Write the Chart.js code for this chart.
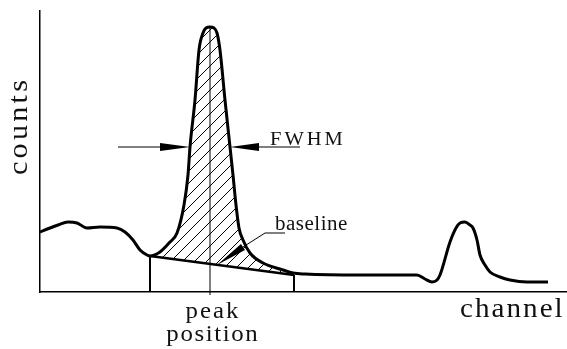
<!DOCTYPE html>
<html>
<head>
<meta charset="utf-8">
<script src="https://cdn.jsdelivr.net/npm/chart.js@4.4.1/dist/chart.umd.min.js"></script>
<style>
    html, body { margin: 0; padding: 0; background: #fff; }
    #area { width: 567px; height: 349px; }
</style>
</head>
<body>
<div id="area"><canvas id="grafico-espectro"></canvas></div>
<script>
// espectro (canal, contagens)
const canais = [0, 10, 18, 28, 37, 47, 60, 77, 85, 93, 100, 107, 110, 120, 130, 137, 144, 148, 150,
    155, 159, 163, 166, 170, 174, 177, 180, 185, 190, 193, 196, 199, 203, 210, 223, 243, 253, 265,
    320, 377, 385, 392, 397, 400, 410, 416, 420, 425, 430, 433, 437, 440, 445, 450, 460, 470, 487, 508];
const contagens = [60, 64, 67, 70, 69, 64, 65, 64, 60, 52, 42, 37, 36, 40, 50, 59, 87, 117, 145,
    192, 242, 259, 264, 265, 264, 259, 242, 192, 145, 117, 87, 64, 52, 39, 29, 22, 19, 18,
    17, 17, 13, 10, 12, 17, 50, 64, 69, 70, 67, 64, 52, 37, 27, 20, 15, 12, 10, 10];

// linha de base do pico
const baseCanais = [110, 254];
const baseContagens = [36, 17];

// marcas do pico
const posicaoPico = 170;
const alturaPico = 265;
const fwhmCanais = [150, 190];
const fwhmContagem = 145;

const limiteX = 527;
const limiteY = 281;

const fonte = '"Liberation Serif", "Times New Roman", serif';

function pares(xs, ys) {
    return xs.map((x, i) => ({ x: x, y: ys[i] }));
}

const trechoPico = pares(canais, contagens).filter(p => p.x >= baseCanais[0] && p.x <= 253);

function gerarHachura() {
    const c = document.createElement('canvas');
    c.width = 12;
    c.height = 12;
    const p = c.getContext('2d');
    p.strokeStyle = '#000';
    p.lineWidth = 1;
    p.beginPath();
    p.moveTo(0, 12); p.lineTo(12, 0);
    p.moveTo(-6, 6); p.lineTo(6, -6);
    p.moveTo(6, 18); p.lineTo(18, 6);
    p.stroke();
    return p.createPattern(c, 'repeat');
}

// texto com letras alargadas e espacadas (fonte da figura e larga)
function textoEspacado(ctx, texto, x, y, espaco, alinhamento, escala) {
    let largura = 0;
    for (const ch of texto) largura += ctx.measureText(ch).width * escala;
    largura += espaco * (texto.length - 1);
    let cx = alinhamento === 'center' ? x - largura / 2 : x;
    ctx.textAlign = 'left';
    for (const ch of texto) {
        ctx.save();
        ctx.translate(cx, y);
        ctx.scale(escala, 1);
        ctx.fillText(ch, 0, 0);
        ctx.restore();
        cx += ctx.measureText(ch).width * escala + espaco;
    }
}

function seta(ctx, x0, y0, x1, y1, meia) {
    // triangulo com ponta em (x1, y1)
    const ang = Math.atan2(y1 - y0, x1 - x0);
    const nx = -Math.sin(ang) * meia, ny = Math.cos(ang) * meia;
    ctx.beginPath();
    ctx.moveTo(x1, y1);
    ctx.lineTo(x0 + nx, y0 + ny);
    ctx.lineTo(x0 - nx, y0 - ny);
    ctx.closePath();
    ctx.fill();
}

const anotacoes = {
    id: 'anotacoes',
    afterDraw(chart) {
        const ctx = chart.ctx;
        const sx = chart.scales.x, sy = chart.scales.y;
        const px = v => sx.getPixelForValue(v);
        const py = v => sy.getPixelForValue(v);
        ctx.save();
        ctx.fillStyle = '#000';
        ctx.strokeStyle = '#000';

        // setas FWHM
        const yF = py(fwhmContagem);
        const xE = px(fwhmCanais[0]), xD = px(fwhmCanais[1]);
        ctx.lineWidth = 1.2;
        ctx.beginPath();
        ctx.moveTo(xE - 72, yF); ctx.lineTo(xE - 20, yF);
        ctx.moveTo(xD + 20, yF); ctx.lineTo(xD + 70, yF);
        ctx.stroke();
        seta(ctx, xE - 30, yF, xE, yF, 4);
        seta(ctx, xD + 29, yF, xD, yF, 4);

        // seta da linha de base
        const ponta = { x: px(177), y: py(27) };
        const meio = { x: px(203), y: py(45) };
        const cotovelo = { x: px(225), y: py(59) };
        ctx.lineWidth = 1;
        ctx.beginPath();
        ctx.moveTo(px(245), cotovelo.y);
        ctx.lineTo(cotovelo.x, cotovelo.y);
        ctx.lineTo(meio.x, meio.y);
        ctx.stroke();
        seta(ctx, meio.x, meio.y, ponta.x, ponta.y, 3.5);

        // textos
        ctx.textBaseline = 'alphabetic';
        ctx.fillStyle = '#111';
        ctx.font = '19px ' + fonte;
        textoEspacado(ctx, 'FWHM', xD + 40, yF - 2, 3, 'left', 1.08);
        ctx.font = '20px ' + fonte;
        textoEspacado(ctx, 'baseline', px(235), cotovelo.y - 3, 0.5, 'left', 1.05);

        const xc = px(posicaoPico) + 2;
        ctx.font = '23px ' + fonte;
        textoEspacado(ctx, 'peak', xc, 318, 2, 'center', 1.08);
        textoEspacado(ctx, 'position', xc, 341, 1.6, 'center', 1.08);

        ctx.font = '27px ' + fonte;
        textoEspacado(ctx, 'channel', 460, 317, 2, 'left', 1.08);

        ctx.save();
        ctx.translate(27, 175);
        ctx.rotate(-Math.PI / 2);
        ctx.font = '28px ' + fonte;
        textoEspacado(ctx, 'counts', 0, 0, 3.2, 'left', 1.08);
        ctx.restore();

        ctx.restore();
    }
};

new Chart(document.getElementById('grafico-espectro'), {
    type: 'line',
    data: {
        datasets: [
            {
                label: 'espectro',
                data: pares(canais, contagens),
                borderColor: '#000',
                borderWidth: 3,
                cubicInterpolationMode: 'monotone',
                pointRadius: 0,
                fill: false,
                order: 0
            },
            {
                label: 'area do pico',
                data: trechoPico,
                borderWidth: 0,
                borderColor: 'rgba(0,0,0,0)',
                cubicInterpolationMode: 'monotone',
                pointRadius: 0,
                backgroundColor: gerarHachura(),
                fill: { target: 2 },
                order: 5
            },
            {
                label: 'linha de base',
                data: pares(baseCanais, baseContagens),
                borderColor: '#000',
                borderWidth: 2.5,
                pointRadius: 0,
                fill: false,
                order: 1
            },
            {
                label: 'limite esquerdo',
                data: [{ x: baseCanais[0], y: 0 }, { x: baseCanais[0], y: baseContagens[0] }],
                borderColor: '#000',
                borderWidth: 2,
                pointRadius: 0,
                order: 2
            },
            {
                label: 'limite direito',
                data: [{ x: baseCanais[1], y: 0 }, { x: baseCanais[1], y: baseContagens[1] }],
                borderColor: '#000',
                borderWidth: 2,
                pointRadius: 0,
                order: 2
            },
            {
                label: 'posicao do pico',
                data: [{ x: posicaoPico, y: -3 }, { x: posicaoPico, y: alturaPico }],
                borderColor: '#000',
                borderWidth: 1,
                pointRadius: 0,
                clip: false,
                order: 3
            }
        ]
    },
    options: {
        responsive: true,
        maintainAspectRatio: false,
        animation: false,
        layout: { padding: { top: 11, left: 0, right: 0, bottom: 0 } },
        plugins: {
            legend: { display: false },
            tooltip: { enabled: false }
        },
        scales: {
            x: {
                type: 'linear',
                min: 0,
                max: limiteX,
                grid: { display: false },
                ticks: { display: false },
                border: { display: true, color: '#000', width: 1.5 },
                afterFit: (s) => { s.height = 57; }
            },
            y: {
                min: 0,
                max: limiteY,
                grid: { display: false },
                ticks: { display: false },
                border: { display: true, color: '#000', width: 1.5 },
                afterFit: (s) => { s.width = 40; }
            }
        }
    },
    plugins: [anotacoes]
});
</script>
</body>
</html>
